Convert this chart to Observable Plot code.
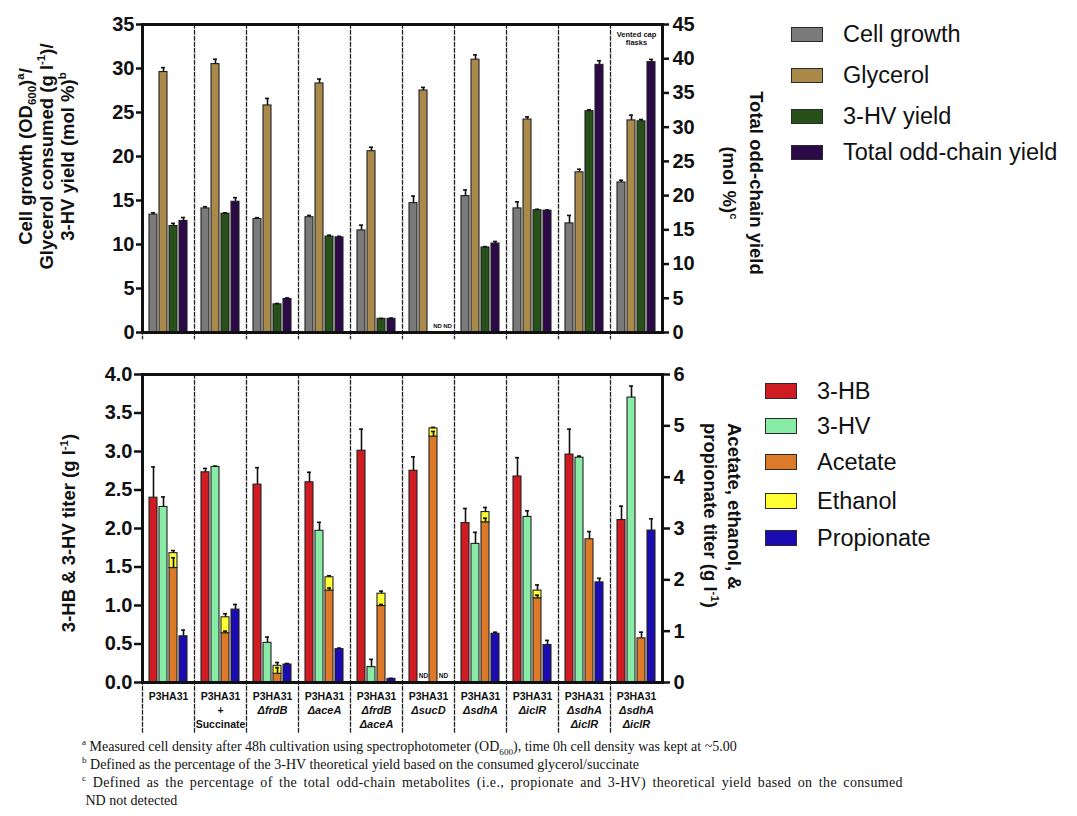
<!DOCTYPE html>
<html><head><meta charset="utf-8">
<script src="https://cdn.jsdelivr.net/npm/d3@7"></script>
<script src="https://cdn.jsdelivr.net/npm/@observablehq/plot@0.6"></script>
<style>
body{margin:0;background:#fff;}
#wrap{position:relative;width:1077px;height:816px;overflow:hidden;background:#fff;font-family:"Liberation Sans",Arial,Helvetica,sans-serif;color:#111;}
.pl{position:absolute;left:0;}
.title{position:absolute;font-weight:bold;font-size:18.5px;white-space:nowrap;}
.title sup,.title sub{font-size:0.62em;line-height:0;}
.leg{position:absolute;display:flex;align-items:center;white-space:nowrap;}
.sw{display:inline-block;border:1.6px solid #2a2a2a;box-sizing:border-box;}
#notes{position:absolute;left:82px;top:738px;font-family:"Liberation Serif","Times New Roman",serif;font-size:14px;line-height:18px;color:#111;white-space:nowrap;}
#notes sup,#notes sub{font-size:0.65em;line-height:0;}
#notes .wide{letter-spacing:0.35px;word-spacing:2.5px;}
</style>
</head>
<body>
<div id="wrap">
  <div id="topPlot" class="pl" style="top:0"></div>
  <div id="botPlot" class="pl" style="top:345px"></div>
</div>
<script>
// ---------------- data ----------------
const strains = ["P3HA31", "P3HA31 + Succinate", "P3HA31 ΔfrdB", "P3HA31 ΔaceA", "P3HA31 ΔfrdB ΔaceA",
  "P3HA31 ΔsucD", "P3HA31 ΔsdhA", "P3HA31 ΔiclR", "P3HA31 ΔsdhA ΔiclR", "P3HA31 ΔsdhA ΔiclR (vented)"];
const labelLine1 = ["P3HA31","P3HA31","P3HA31","P3HA31","P3HA31","P3HA31","P3HA31","P3HA31","P3HA31","P3HA31"];
const labelLine2 = ["", "+", "ΔfrdB", "ΔaceA", "ΔfrdB", "ΔsucD", "ΔsdhA", "ΔiclR", "ΔsdhA", "ΔsdhA"];
const labelLine3 = ["", "Succinate", "", "", "ΔaceA", "", "", "", "ΔiclR", "ΔiclR"];
const ventedNote = "Vented cap\nflasks";

const topSeries = ["Cell growth", "Glycerol", "3-HV yield", "Total odd-chain yield"];
const topColors = ["#7a7a7a", "#aa8a4b", "#27501a", "#2c0a48"];
// left axis (0-35)
const cellGrowth    = [13.4, 14.1, 12.9, 13.1, 11.6, 14.7, 15.5, 14.1, 12.4, 17.05];
const cellGrowthErr = [0.2, 0.2, 0.15, 0.2, 0.6, 0.8, 0.7, 0.75, 0.9, 0.25];
const glycerol      = [29.6, 30.5, 25.8, 28.3, 20.6, 27.5, 31.0, 24.2, 18.2, 24.1];
const glycerolErr   = [0.5, 0.55, 0.8, 0.5, 0.45, 0.35, 0.55, 0.3, 0.35, 0.6];
const hvYield       = [12.1, 13.5, 3.2, 10.9, 1.55, null, 9.66, 13.9, 25.15, 24.0];
const hvYieldErr    = [0.3, 0.1, 0.1, 0.15, 0.05, null, 0.1, 0.1, 0.15, 0.2];
// right axis (0-45)
const oddYield      = [16.3, 19.1, 4.9, 13.9, 2.0, null, 13.0, 17.8, 39.1, 39.5];
const oddYieldErr   = [0.5, 0.6, 0.15, 0.15, 0.1, null, 0.3, 0.1, 0.6, 0.4];
const topLeftTicks  = [0, 5, 10, 15, 20, 25, 30, 35];
const topRightTicks = [0, 5, 10, 15, 20, 25, 30, 35, 40, 45];

const botSeries = ["3-HB", "3-HV", "Acetate", "Ethanol", "Propionate"];
const botColumns = ["3-HB", "3-HV", "Acetate", "Propionate"];
const botColors = ["#cf1b22", "#88eca6", "#dc7a2a", "#ffff33", "#1a0cb0"];
// left axis (0-4)
const hb      = [2.40, 2.73, 2.57, 2.60, 3.01, 2.75, 2.07, 2.675, 2.96, 2.11];
const hbErr   = [0.40, 0.05, 0.22, 0.13, 0.28, 0.18, 0.19, 0.245, 0.33, 0.18];
const hv      = [2.28, 2.80, 0.515, 1.97, 0.20, null, 1.80, 2.15, 2.92, 3.70];
const hvErr   = [0.13, 0.01, 0.075, 0.11, 0.10, null, 0.15, 0.08, 0.02, 0.15];
// right axis (0-6)
const acetate    = [2.23, 0.96, 0.17, 1.79, 1.49, 4.79, 3.12, 1.64, 2.79, 0.86];
const acetateErr = [0.2, 0.04, 0.12, 0.05, 0.03, 0.1, 0.08, 0.06, 0.15, 0.12];
const ethanol    = [0.29, 0.31, 0.155, 0.26, 0.24, 0.16, 0.20, 0.15, 0, 0];
const ethanolErr = [0.05, 0.07, 0.065, 0.03, 0.05, 0.02, 0.09, 0.11, 0, 0];
const propionate    = [0.90, 1.42, 0.35, 0.65, 0.07, null, 0.95, 0.73, 1.95, 2.96];
const propionateErr = [0.12, 0.10, 0.02, 0.02, 0.01, null, 0.03, 0.09, 0.08, 0.23];
const botLeftTicks  = [0, 0.5, 1, 1.5, 2, 2.5, 3, 3.5, 4];
const botRightTicks = [0, 1, 2, 3, 4, 5, 6];

const TOP_L = 35, TOP_R = 45, BOT_L = 4, BOT_R = 6;

// ---------------- tidy rows ----------------
const topRows = [];
strains.forEach((s, i) => {
  const src = [[cellGrowth, cellGrowthErr, 1], [glycerol, glycerolErr, 1], [hvYield, hvYieldErr, 1], [oddYield, oddYieldErr, TOP_L / TOP_R]];
  src.forEach(([v, e, k], j) => {
    if (v[i] == null) return;
    topRows.push({strain: s, series: topSeries[j], col: topSeries[j], y1: 0, y2: v[i] * k, err: e[i] * k});
  });
});
const topND = [{strain: strains[5], col: "3-HV yield"}, {strain: strains[5], col: "Total odd-chain yield"}];

const botRows = [];
strains.forEach((s, i) => {
  const kR = BOT_L / BOT_R;
  if (hb[i] != null) botRows.push({strain: s, series: "3-HB", col: "3-HB", y1: 0, y2: hb[i], err: hbErr[i]});
  if (hv[i] != null) botRows.push({strain: s, series: "3-HV", col: "3-HV", y1: 0, y2: hv[i], err: hvErr[i]});
  if (acetate[i] != null) botRows.push({strain: s, series: "Acetate", col: "Acetate", y1: 0, y2: acetate[i] * kR, err: acetateErr[i] * kR});
  if (ethanol[i] > 0) botRows.push({strain: s, series: "Ethanol", col: "Acetate", y1: acetate[i] * kR, y2: (acetate[i] + ethanol[i]) * kR, err: ethanolErr[i] * kR});
  if (propionate[i] != null) botRows.push({strain: s, series: "Propionate", col: "Propionate", y1: 0, y2: propionate[i] * kR, err: propionateErr[i] * kR});
});
const botND = [{strain: strains[5], col: "3-HV"}, {strain: strains[5], col: "Propionate"}];
const labelRows = strains.map((s, i) => ({strain: s, l1: labelLine1[i], l2: labelLine2[i], l3: labelLine3[i]}));

// ---------------- helpers ----------------
const FONT = '"Liberation Sans", Arial, Helvetica, sans-serif';
function outerFrame(opts) {
  try { return Plot.frame({facet: "super", ...opts}); }
  catch (e) {
    return [Plot.frame({anchor: "left", facetAnchor: "left", ...opts}), Plot.frame({anchor: "right", facetAnchor: "right", ...opts})];
  }
}
function commonMarks(rows, extBottom) {
  const errRows = rows.filter(d => d.err > 0);
  return [
    Plot.frame({anchor: "left", stroke: "#222", strokeWidth: 1.3, strokeDasharray: "3.5,2.5", insetBottom: -extBottom}),
    Plot.barY(rows, {fx: "strain", x: "col", y1: "y1", y2: "y2", fill: "series", stroke: "#222", strokeWidth: 1.1}),
    Plot.ruleX(errRows, {fx: "strain", x: "col", y1: "y2", y2: d => d.y2 + d.err, stroke: "#111", strokeWidth: 1.6}),
    Plot.tickY(errRows, {fx: "strain", x: "col", y: d => d.y2 + d.err, stroke: "#111", strokeWidth: 1.6, insetLeft: 2, insetRight: 2})
  ];
}

// ---------------- top plot ----------------
const topPlot = Plot.plot({
  width: 780, height: 345,
  marginLeft: 141, marginRight: 117, marginTop: 24, marginBottom: 13,
  fx: {domain: strains, padding: 0, axis: null},
  x: {domain: topSeries, paddingInner: 0.2, paddingOuter: 0.55, axis: null},
  y: {domain: [0, TOP_L], axis: null},
  color: {domain: topSeries, range: topColors},
  style: {fontFamily: FONT, color: "#111", background: "transparent", overflow: "visible"},
  marks: [
    ...commonMarks(topRows, 6),
    Plot.text(topND, {fx: "strain", x: "col", y: 0, text: () => "ND", dy: -6, dx: 4, fontSize: 6, fontWeight: "bold"}),
    Plot.text([strains[9]], {fx: d => d, text: () => ventedNote, frameAnchor: "top", lineAnchor: "top", dy: 6, fontSize: 7.5, fontWeight: "bold", lineHeight: 1.15}),
    Plot.ruleY([0, TOP_L], {stroke: "#111", strokeWidth: 3}),
    outerFrame({stroke: "#111", strokeWidth: 3}),
    Plot.axisY(topLeftTicks, {anchor: "left", label: null, tickSize: 6, tickPadding: 2, strokeWidth: 2.5, fontSize: 20, fontWeight: "bold"}),
    Plot.axisY(topRightTicks.map(v => v * TOP_L / TOP_R), {anchor: "right", label: null, tickSize: 6, tickPadding: 4, strokeWidth: 2.5, fontSize: 20, fontWeight: "bold",
      tickFormat: v => String(Math.round(v * TOP_R / TOP_L))})
  ]
});
document.getElementById("topPlot").appendChild(topPlot);

// ---------------- bottom plot ----------------
const botPlot = Plot.plot({
  width: 780, height: 400,
  marginLeft: 141, marginRight: 117, marginTop: 29, marginBottom: 63,
  fx: {domain: strains, padding: 0, axis: null},
  x: {domain: botColumns, paddingInner: 0.2, paddingOuter: 0.55, axis: null},
  y: {domain: [0, BOT_L], axis: null},
  color: {domain: botSeries, range: botColors},
  style: {fontFamily: FONT, color: "#111", background: "transparent", overflow: "visible"},
  marks: [
    ...commonMarks(botRows, 52),
    Plot.text(botND, {fx: "strain", x: "col", y: 0, text: () => "ND", dy: -7, fontSize: 6.5, fontWeight: "bold"}),
    Plot.text(labelRows, {fx: "strain", text: "l1", frameAnchor: "bottom", dy: 17, fontSize: 10.5, fontWeight: "bold"}),
    Plot.text(labelRows.filter(d => d.l2.startsWith("Δ")), {fx: "strain", text: "l2", frameAnchor: "bottom", dy: 31, fontSize: 11, fontWeight: "bold", fontStyle: "italic"}),
    Plot.text(labelRows.filter(d => d.l2 && !d.l2.startsWith("Δ")), {fx: "strain", text: "l2", frameAnchor: "bottom", dy: 31, fontSize: 10.5, fontWeight: "bold"}),
    Plot.text(labelRows.filter(d => d.l3.startsWith("Δ")), {fx: "strain", text: "l3", frameAnchor: "bottom", dy: 45, fontSize: 11, fontWeight: "bold", fontStyle: "italic"}),
    Plot.text(labelRows.filter(d => d.l3 && !d.l3.startsWith("Δ")), {fx: "strain", text: "l3", frameAnchor: "bottom", dy: 45, fontSize: 10.5, fontWeight: "bold"}),
    Plot.ruleY([0, BOT_L], {stroke: "#111", strokeWidth: 3}),
    outerFrame({stroke: "#111", strokeWidth: 3}),
    Plot.axisY(botLeftTicks, {anchor: "left", label: null, tickSize: 8, tickPadding: 2, strokeWidth: 2.5, fontSize: 20, fontWeight: "bold", tickFormat: d3.format(".1f")}),
    Plot.axisY(botRightTicks.map(v => v * BOT_L / BOT_R), {anchor: "right", label: null, tickSize: 7, tickPadding: 4, strokeWidth: 2.5, fontSize: 20, fontWeight: "bold",
      tickFormat: v => String(Math.round(v * BOT_R / BOT_L))})
  ]
});
document.getElementById("botPlot").appendChild(botPlot);

// ---------------- titles, legends, notes ----------------
const wrap = document.getElementById("wrap");
function rotTitle(html, cx, cy, w, lines, lh, deg, align) {
  const d = document.createElement("div");
  d.className = "title";
  const h = lines * lh;
  Object.assign(d.style, {left: (cx - w / 2) + "px", top: (cy - h / 2) + "px", width: w + "px", height: h + "px",
    lineHeight: lh + "px", textAlign: align, transform: `rotate(${deg}deg)`, transformOrigin: "50% 50%"});
  d.innerHTML = html;
  wrap.appendChild(d);
}
rotTitle("Cell growth (OD<sub>600</sub>)<sup>a</sup>/<br>Glycerol consumed (g l<sup>-1</sup>)/<br>3-HV yield (mol %)<sup>b</sup>", 46, 156, 300, 3, 21, -90, "center");
rotTitle("Total odd-chain yield<br>(mol %)<sup>c</sup>", 743, 183, 260, 2, 27, 90, "center");
rotTitle("3-HB &amp; 3-HV titer (g l<sup>-1</sup>)", 69, 533, 300, 1, 22, -90, "center");
rotTitle("Acetate, ethanol, &amp;<br>propionate titer (g l<sup>-1</sup>)", 722, 553, 260, 2, 24, 90, "left");

function legend(series, colors, x0, centers, swW, swH, textX, fs) {
  series.forEach((s, i) => {
    const d = document.createElement("div");
    d.className = "leg";
    const cy = centers[i];
    Object.assign(d.style, {left: x0 + "px", top: (cy - 15) + "px", height: "30px", fontSize: fs + "px"});
    d.innerHTML = `<span class="sw" style="width:${swW}px;height:${swH}px;background:${colors[i]}"></span><span style="margin-left:${textX - x0 - swW}px">${s}</span>`;
    wrap.appendChild(d);
  });
}
legend(topSeries, topColors, 791, [34, 75, 116, 152], 32, 15, 843, 23.5);
legend(botSeries, botColors, 765, [391, 426, 462, 501, 538], 32, 16, 817, 23.5);

const notes = document.createElement("div");
notes.id = "notes";
notes.innerHTML = "<sup>a</sup> Measured cell density after 48h cultivation using spectrophotometer (OD<sub>600</sub>), time 0h cell density was kept at ~5.00<br>" +
  "<sup>b</sup> Defined as the percentage of the 3-HV theoretical yield based on the consumed glycerol/succinate<br>" +
  "<span class='wide'><sup>c</sup> Defined as the percentage of the total odd-chain metabolites (i.e., propionate and 3-HV) theoretical yield based on the consumed</span><br>" +
  "&nbsp;ND not detected";
wrap.appendChild(notes);
</script>
</body></html>
